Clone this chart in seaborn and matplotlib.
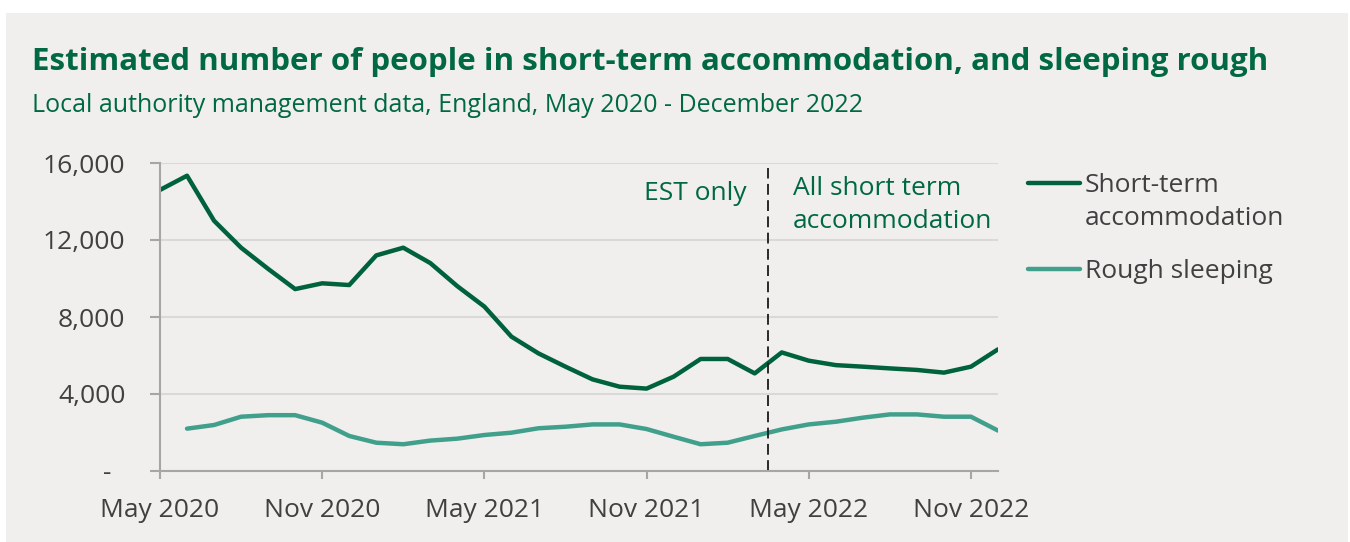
# Short-term accommodation and rough sleeping, England, May 2020 - Dec 2022
import pandas as pd
import numpy as np
import matplotlib.pyplot as plt
from matplotlib.lines import Line2D
from matplotlib.patches import Rectangle
import seaborn as sns

# ---- data ----
months = pd.date_range("2020-05-01", "2022-12-01", freq="MS")

short_term = [14600, 15340, 13000, 11600, 10500, 9450, 9750, 9660, 11200, 11600,
              10800, 9600, 8540, 6980, 6110, 5420, 4760, 4380, 4280, 4900,
              5820, 5820, 5070, 6160, 5730, 5500, 5420, 5330, 5250, 5110,
              5420, 6320]

rough_sleeping = [np.nan, 2200, 2390, 2820, 2900, 2900, 2510, 1820, 1470, 1390,
                  1580, 1680, 1870, 1990, 2220, 2300, 2420, 2420, 2180, 1780,
                  1390, 1470, 1820, 2160, 2420, 2560, 2770, 2940, 2940, 2820,
                  2820, 2100]

series_names = ["Short-term\naccommodation", "Rough sleeping"]
x_tick_pos = [0, 6, 12, 18, 24, 30]
x_tick_labels = ["May 2020", "Nov 2020", "May 2021", "Nov 2021", "May 2022", "Nov 2022"]
y_ticks = [0, 4000, 8000, 12000, 16000]
y_tick_labels = ["-  ", "4,000", "8,000", "12,000", "16,000"]
break_pos = 22.5  # change of definition (between Mar and Apr 2022)

# ---- colours ----
bg = "#F0EFED"
green_dark = "#00623D"
teal = "#41A08B"
text_green = "#006842"
text_grey = "#404040"
axis_grey = "#A6A6A6"

sns.set_theme(style="white")
plt.rcParams["font.family"] = ["Open Sans", "DejaVu Sans"]

df = pd.DataFrame({
    "idx": np.arange(len(months)),
    series_names[0]: short_term,
    series_names[1]: rough_sleeping,
})
long = df.melt(id_vars="idx", var_name="serie", value_name="valor")

fig = plt.figure(figsize=(13.5, 5.42), dpi=100)
fig.patch.set_facecolor("white")
fig.patches.append(Rectangle((6 / 1350, 0), 1342 / 1350, 529 / 542,
                             transform=fig.transFigure, facecolor=bg,
                             edgecolor="none", zorder=-10))

ax = fig.add_axes([160 / 1350, 1 - 471 / 542, 838 / 1350, 308 / 542])
ax.set_facecolor("none")

sns.lineplot(data=long, x="idx", y="valor", hue="serie",
             palette=[green_dark, teal], linewidth=3.2, legend=False, ax=ax)

ax.set_xlim(0, len(months) - 1)
ax.set_ylim(0, 16000)
ax.set_xticks(x_tick_pos)
ax.set_xticklabels(x_tick_labels)
ax.set_yticks(y_ticks)
ax.set_yticklabels(y_tick_labels)
ax.set_xlabel("")
ax.set_ylabel("")

ax.grid(axis="y", color="#D9D9D9", linewidth=1.5)
ax.set_axisbelow(True)
for side in ["top", "right"]:
    ax.spines[side].set_visible(False)
for side in ["left", "bottom"]:
    ax.spines[side].set_color(axis_grey)
    ax.spines[side].set_linewidth(1.5)

ax.tick_params(axis="x", direction="out", length=5.5, width=1.5, color=axis_grey,
               labelsize=19, labelcolor=text_grey, pad=14, bottom=True)
ax.tick_params(axis="y", direction="out", length=7, width=1.5, color=axis_grey,
               labelsize=19, labelcolor=text_grey, pad=18, left=True)

# linha tracejada da mudança de definição
ax.plot([break_pos, break_pos], [0, 15750], color="#1a1a1a", linewidth=1.3,
        linestyle=(0, (6, 3)))
ax.text(break_pos - 0.8, 14440, "EST only", color=text_green, fontsize=19,
        ha="right", va="center")
ax.text(break_pos + 0.9, 13820, "All short term\naccommodation", color=text_green,
        fontsize=19, ha="left", va="center", linespacing=1.47)

# legenda desenhada à mão (a linha fica alinhada com a primeira linha do texto)
for (label, color, y_px) in [(series_names[0], green_dark, 183),
                             (series_names[1], teal, 269)]:
    fig.add_artist(Line2D([1028 / 1350, 1080 / 1350], [1 - y_px / 542] * 2,
                          color=color, linewidth=3.2, solid_capstyle="round",
                          transform=fig.transFigure))
    multi = "\n" in label
    fig.text(1085 / 1350, 1 - (y_px - 10 if multi else y_px + 2) / 542, label,
             color=text_grey, fontsize=19, ha="left",
             va="top" if multi else "center", linespacing=1.43)

# títulos
fig.text(32 / 1350, 1 - 62 / 542,
         "Estimated number of people in short-term accommodation, and sleeping rough",
         color=text_green, fontsize=22.5, fontweight="bold",
         ha="left", va="center")
fig.text(32 / 1350, 1 - 106 / 542,
         "Local authority management data, England, May 2020 - December 2022",
         color=text_green, fontsize=18, ha="left", va="center")

plt.savefig("out.png", dpi=100, facecolor=fig.get_facecolor())
plt.close()
